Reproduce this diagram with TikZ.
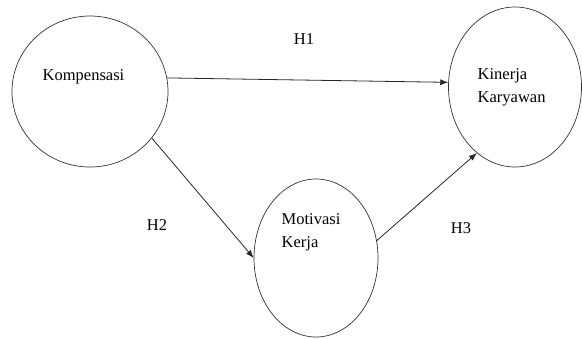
\documentclass[tikz,border=0pt]{standalone}
\usepackage{fontspec}
\setmainfont{Liberation Serif}
\usetikzlibrary{shapes.geometric,arrows.meta}
\begin{document}
\begin{tikzpicture}[x=1pt,y=-1pt,
  var/.style={draw=black!80,line width=0.7pt,ellipse,inner sep=0pt},
  lbl/.style={font=\fontsize{16.5}{23}\selectfont,inner sep=0pt,align=left},
  conn/.style={draw=black!85,line width=0.8pt,-{Latex[length=8pt,width=6pt]}}]
\useasboundingbox (0,0) rectangle (582,338);
\node[var,minimum width=156pt,minimum height=151pt] (komp) at (90,91.5) {};
\node[var,minimum width=133pt,minimum height=160pt] (kin) at (515,87) {};
\node[var,minimum width=124pt,minimum height=158pt] (mot) at (316,258) {};
\node[lbl,anchor=base west] (tkomp) at (42.5,80) {Kompensasi};
\node[lbl,anchor=north west] (tkin) at (477.5,68.7) {Kinerja\\Karyawan};
\node[lbl,anchor=north west] (tmot) at (281.5,213.5) {Motivasi\\Kerja};
\node[lbl] (h1) at (304,39) {H1};
\node[lbl] (h2) at (157,225) {H2};
\node[lbl] (h3) at (461,228) {H3};
\draw[conn] (komp.10) -- (kin.176);
\draw[conn] (komp.-37) -- (mot.180);
\draw[conn] (mot.16) -- (kin.-120);
\end{tikzpicture}
\end{document}
